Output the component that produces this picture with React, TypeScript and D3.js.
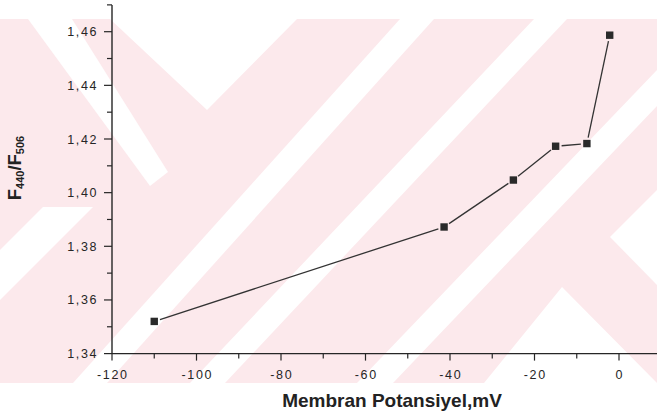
import React from 'react';
import * as d3 from 'd3';

// Data
const potentials = [-110, -41.4, -25, -15, -7.6, -2.2];
const ratios = [1.352, 1.3872, 1.4047, 1.4173, 1.4183, 1.4587];

const xMajorTicks = [-120, -100, -80, -60, -40, -20, 0];
const xMinorTicks = [-110, -90, -70, -50, -30, -10];
const yMajorTicks = [1.34, 1.36, 1.38, 1.4, 1.42, 1.44, 1.46];
const yMinorTicks = [1.35, 1.37, 1.39, 1.41, 1.43, 1.45, 1.47];

const xTitle = 'Membran Potansiyel,mV';

// Decorative scan watermark (pink chevrons), in pixel space
const wmTop = 19;
const wmBottom = 383;
const wmWhite: [number, number][][] = [
  [[28, 19], [72, 19], [168, 172], [150, 186]],
  [[110, 19], [297, 19], [207, 110]],
  [[400, 19], [434, 19], [107, 383], [73, 383]],
  [[534, 19], [567, 19], [225, 383], [190, 383]],
  [[706, 19], [740, 19], [393, 383], [357, 383]],
  [[562, 287], [657, 383], [484, 383]],
  [[610, 237], [657, 190], [657, 285]],
  [[43, 207], [93, 207], [0, 300], [0, 250]],
];

const FONT = '"Liberation Sans", Arial, Helvetica, sans-serif';

export default function App() {
  const W = 657;
  const H = 414;
  const x = d3.scaleLinear().domain([-120, 0]).range([112, 619]);
  const y = d3.scaleLinear().domain([1.34, 1.46]).range([353.6, 31.7]);
  const xEnd = W;
  const yTop = y(1.47);
  const x0 = x(-120);
  const y0 = y(1.34);

  const pts = potentials.map((p, i) => [x(p), y(ratios[i])] as [number, number]);
  const gap = 6;
  const segs = pts.slice(1).map((b, i) => {
    const a = pts[i];
    const dx = b[0] - a[0];
    const dy = b[1] - a[1];
    const len = Math.hypot(dx, dy);
    const ux = dx / len;
    const uy = dy / len;
    return [a[0] + ux * gap, a[1] + uy * gap, b[0] - ux * gap, b[1] - uy * gap];
  });
  const fmt = (v: number) => d3.format('.2f')(v).replace('.', ',');
  const ink = '#262626';
  const ms = 7.4;

  return (
    <div style={{ position: 'absolute', left: 0, top: 0 }}>
      <svg width={W} height={H} viewBox={`0 0 ${W} ${H}`} style={{ display: 'block', background: '#fff' }}>
        <defs>
          <clipPath id="wm">
            <rect x={0} y={wmTop} width={W} height={wmBottom - wmTop} />
          </clipPath>
        </defs>
        <g clipPath="url(#wm)">
          <rect x={0} y={wmTop} width={W} height={wmBottom - wmTop} fill="#fce9ec" />
          {wmWhite.map((poly, i) => (
            <polygon key={i} points={poly.map((p) => p.join(',')).join(' ')} fill="#ffffff" />
          ))}
        </g>

        {/* axes */}
        <line x1={x0} x2={x0} y1={yTop} y2={y0} stroke={ink} strokeWidth={1.4} />
        <line x1={x0} x2={xEnd} y1={y0} y2={y0} stroke={ink} strokeWidth={1.4} />

        {yMajorTicks.map((t) => (
          <g key={'ym' + t}>
            <line x1={x0 - 8} x2={x0} y1={y(t)} y2={y(t)} stroke={ink} strokeWidth={1.2} />
            <text
              x={x0 - 14}
              y={y(t)}
              dy="0.36em"
              textAnchor="end"
              fontFamily={FONT}
              fontSize={12.5}
              letterSpacing={1.6}
              fill={ink}
            >
              {fmt(t)}
            </text>
          </g>
        ))}
        {yMinorTicks.map((t) => (
          <line key={'yn' + t} x1={x0 - 5} x2={x0} y1={y(t)} y2={y(t)} stroke={ink} strokeWidth={1.2} />
        ))}

        {xMajorTicks.map((t) => (
          <g key={'xm' + t}>
            <line x1={x(t)} x2={x(t)} y1={y0} y2={y0 + 7} stroke={ink} strokeWidth={1.2} />
            <text
              x={x(t) + 0.8}
              y={379}
              textAnchor="middle"
              fontFamily={FONT}
              fontSize={12.5}
              letterSpacing={1.6}
              fill={ink}
            >
              {String(t)}
            </text>
          </g>
        ))}
        {xMinorTicks.map((t) => (
          <line key={'xn' + t} x1={x(t)} x2={x(t)} y1={y0} y2={y0 + 5} stroke={ink} strokeWidth={1.2} />
        ))}

        {/* data line with gaps at markers */}
        {segs.map((s, i) => (
          <line key={'s' + i} x1={s[0]} y1={s[1]} x2={s[2]} y2={s[3]} stroke="#333" strokeWidth={1.3} />
        ))}
        {pts.map((p, i) => (
          <rect key={'p' + i} x={p[0] - ms / 2} y={p[1] - ms / 2} width={ms} height={ms} fill="#2a2a2a" />
        ))}

        {/* axis titles */}
        <text x={392} y={407} textAnchor="middle" fontFamily={FONT} fontWeight="bold" fontSize={19} fill="#222">
          {xTitle}
        </text>
        <g transform="translate(21,168) rotate(-90)">
          <text textAnchor="middle" fontFamily={FONT} fontWeight="bold" fontSize={18.5} fill="#222">
            <tspan>F</tspan>
            <tspan fontSize={11} dy={3}>440</tspan>
            <tspan dy={-3}>/F</tspan>
            <tspan fontSize={11} dy={3}>506</tspan>
          </text>
        </g>
      </svg>
    </div>
  );
}
